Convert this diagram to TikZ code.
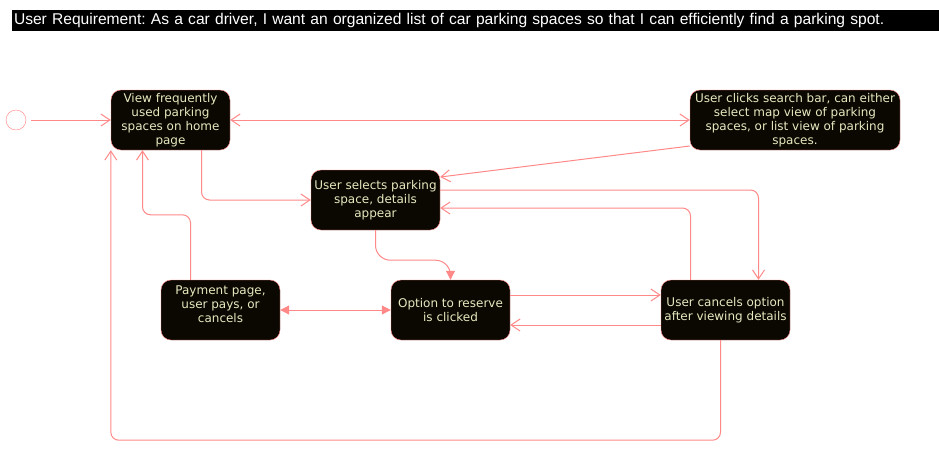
\documentclass[tikz,border=0pt]{standalone}
\usepackage{fontspec}
\setmainfont{DejaVu Sans}
\newfontfamily\titlefont{Liberation Sans}
\usetikzlibrary{arrows.meta}
\definecolor{statefill}{RGB}{10,8,0}
\definecolor{stateline}{RGB}{255,128,128}
\definecolor{statetext}{RGB}{232,232,192}
\definecolor{flowline}{RGB}{255,136,136}
\frenchspacing
\begin{document}
\begin{tikzpicture}[
        x=1pt, y=-1pt,
        state/.style={draw=stateline, fill=statefill, text=statetext, rounded corners=10pt,
            minimum height=60pt, inner sep=0pt, align=center,
            font=\fontsize{12pt}{14pt}\selectfont},
        initial/.style={draw=stateline, fill=white, circle, minimum size=20pt, inner sep=0pt},
        titlebar/.style={fill=black, text=white, minimum width=927pt, minimum height=21pt,
            text width=923pt, align=left, inner sep=2pt, font=\titlefont\fontsize{15.6pt}{17pt}\selectfont},
        flow/.style={draw=flowline, line width=1pt, rounded corners=8pt, -{Straight Barb[length=9pt,width=12pt]}},
        both/.style={flow, {Straight Barb[length=9pt,width=12pt]}-{Straight Barb[length=9pt,width=12pt]}},
        solid tip/.style={draw=flowline, line width=1pt, -{Triangle[length=9pt,width=9pt]}},
    ]
    \useasboundingbox (0,0) rectangle (939,451);
    \node[titlebar] (req) at (475.5,20.5) {User Requirement: As a car driver, I want an organized list of car parking spaces so that I can efficiently find a parking spot.};
    \node[initial] (start) at (16,120) {};
    \node[state, minimum width=119pt] (view) at (170.5,120) {View frequently\\used parking\\spaces on home\\page};
    \node[state, minimum width=210pt] (search) at (795,120) {User clicks search bar, can either\\select map view of parking\\spaces, or list view of parking\\spaces.};
    \node[state, minimum width=129pt] (select) at (375.5,200) {User selects parking\\space, details\\appear};
    \node[state, minimum width=119pt, text depth=12pt] (pay) at (220.5,310) {Payment page,\\user pays, or\\cancels};
    \node[state, minimum width=119pt] (reserve) at (450.5,310) {Option to reserve\\is clicked};
    \node[state, minimum width=129pt] (cancel) at (725.5,310) {User cancels option\\after viewing details};

    \draw[flow, shorten <=5pt] (start) -- (view);
    \draw[both] (view) -- (search);
    \draw[flow] ([yshift=-26pt]search.west) -- ([yshift=23pt]select.east);
    \draw[flow] ([xshift=31pt]view.south) |- (select.west);
    \draw[flow] ([xshift=-30pt]pay.north) -- ++(0,-65) -| ([xshift=-28pt]view.south);
    \draw[solid tip, rounded corners=15pt] (select.south) -- ++(0,30) -| (reserve.north);
    \draw[flow] ([yshift=10pt]select.east) -| ([xshift=33pt]cancel.north);
    \draw[flow] ([xshift=-35pt]cancel.north) |- ([yshift=-8pt]select.east);
    \draw[solid tip, {Triangle[length=9pt,width=9pt]}-{Triangle[length=9pt,width=9pt]}] (pay) -- (reserve);
    \draw[flow] ([yshift=15pt]reserve.east) -- ([yshift=15pt]cancel.west);
    \draw[flow] ([yshift=-15pt]cancel.west) -- ([yshift=-15pt]reserve.east);
    \draw[flow] ([xshift=-5pt]cancel.south) -- ++(0,100) -| (view.south west);
\end{tikzpicture}
\end{document}
